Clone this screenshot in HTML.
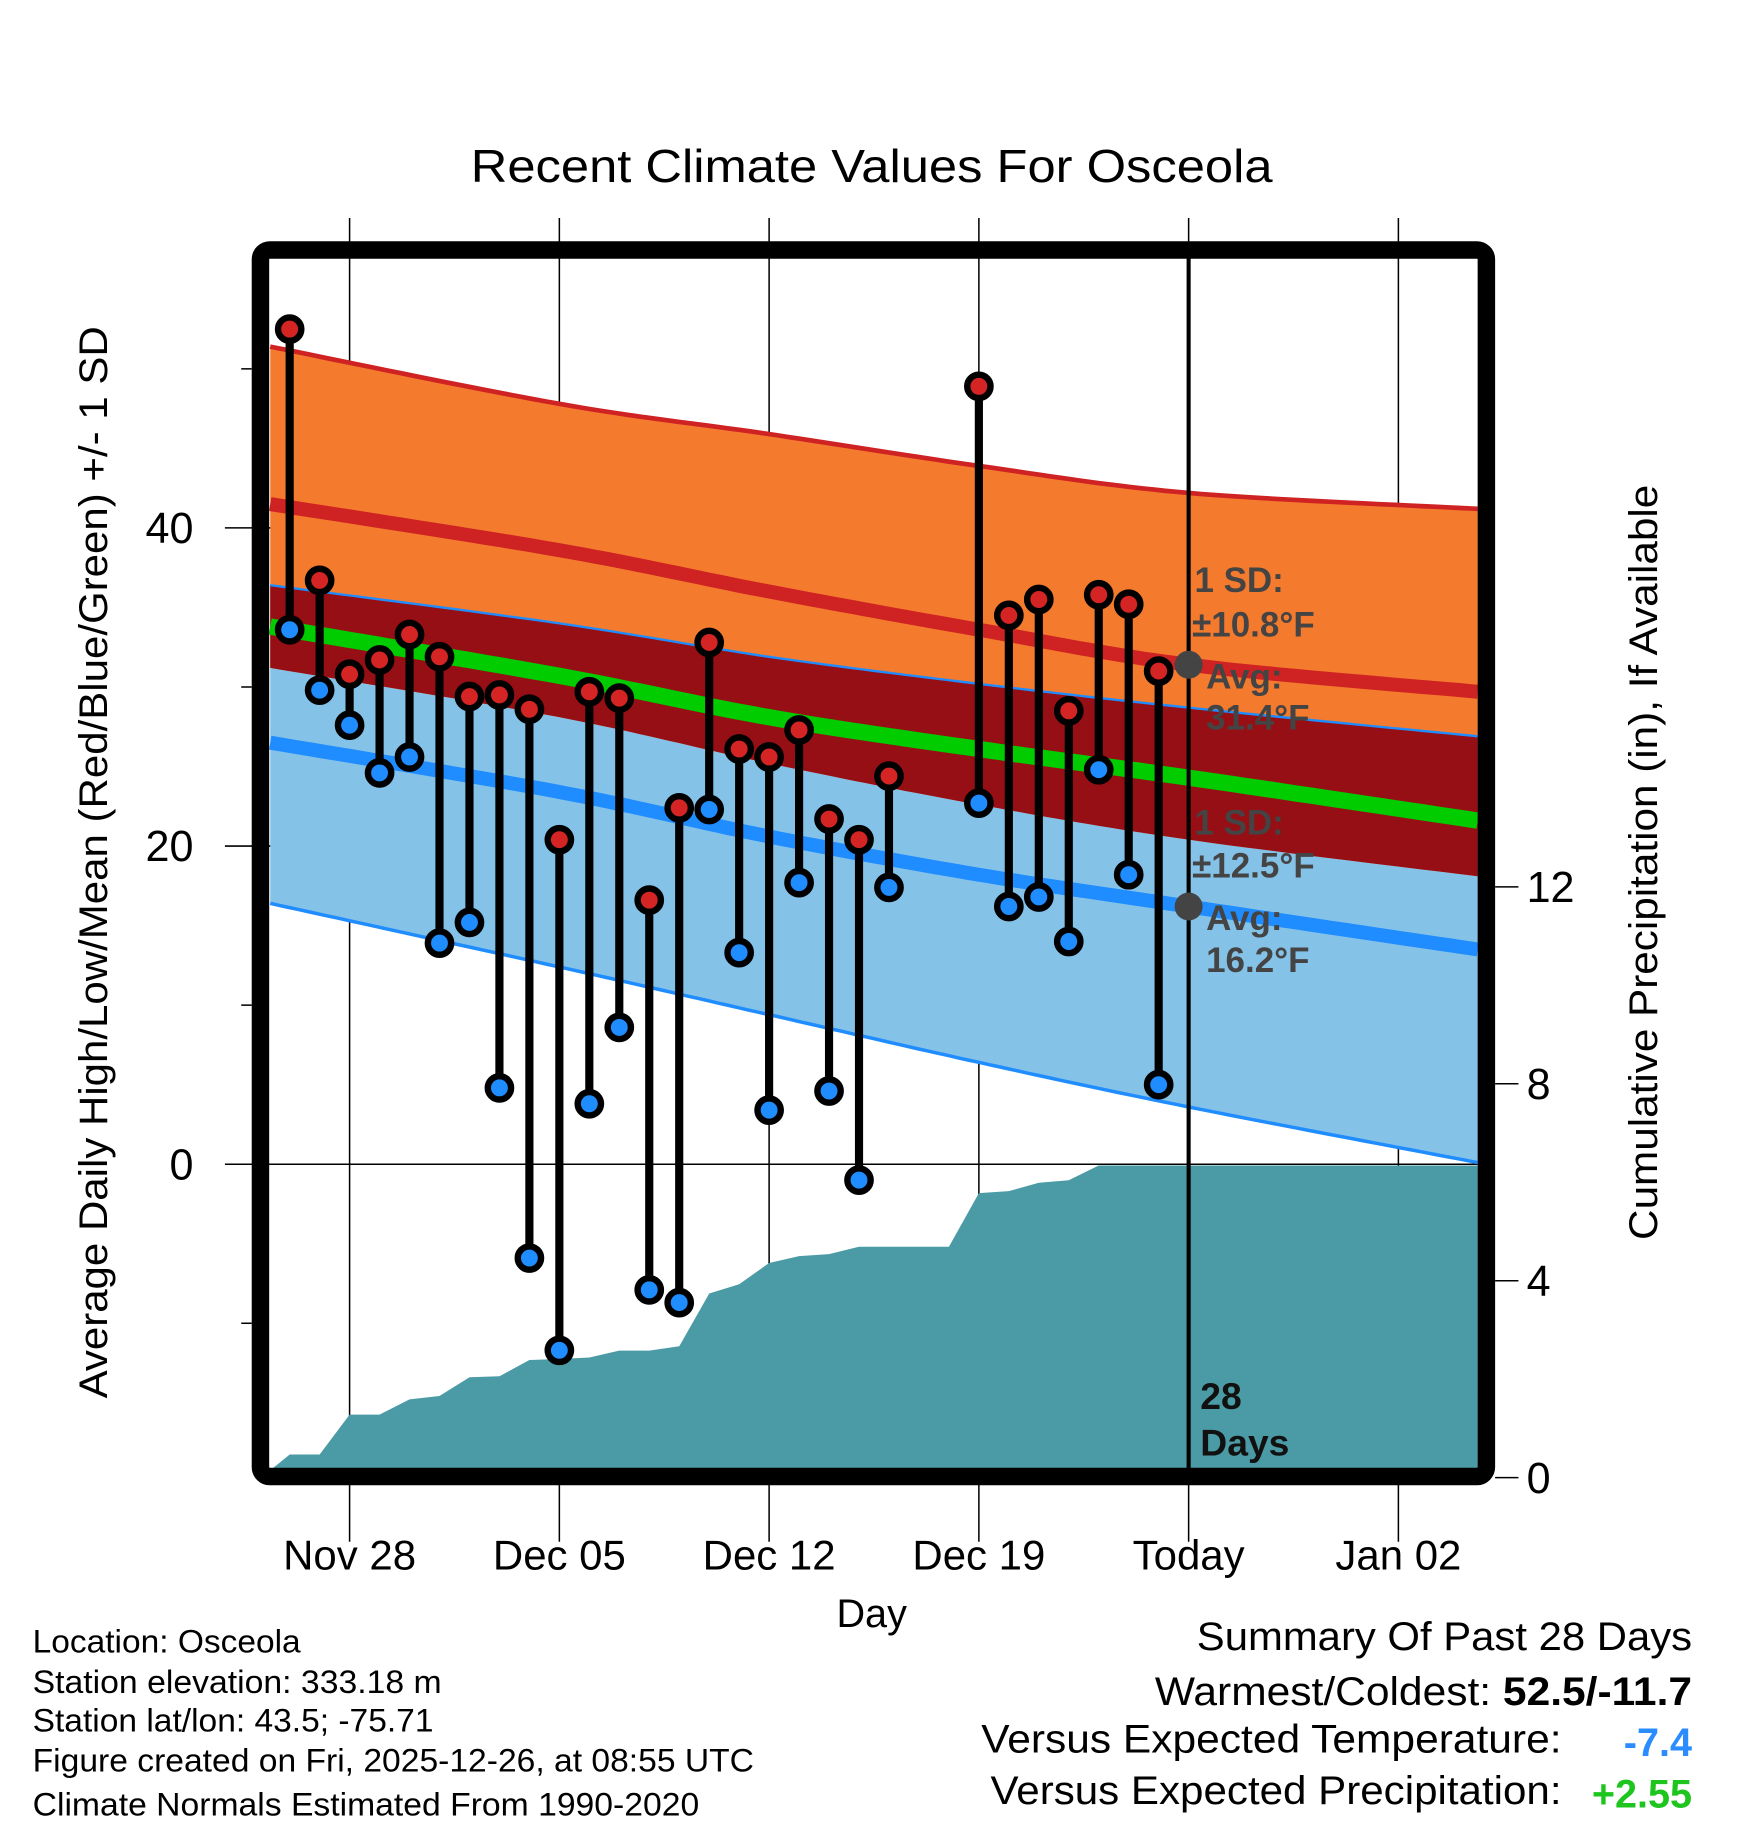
<!DOCTYPE html>
<html><head><meta charset="utf-8"><style>
html,body{margin:0;padding:0;background:#fff}
svg{display:block;font-family:"Liberation Sans",Arial,sans-serif}
</style></head><body>
<svg id="chart" width="1748" height="1828" viewBox="0 0 1500 1568.6" xmlns="http://www.w3.org/2000/svg">
<defs><clipPath id="plotclip"><rect x="231" y="221" width="1038" height="1039"/></clipPath></defs>
<rect width="1500" height="1569" fill="#fff"/>
<text x="748" y="156" font-size="40" text-anchor="middle" textLength="688" lengthAdjust="spacingAndGlyphs">Recent Climate Values For Osceola</text>
<g id="grid"></g>
<g id="plot" clip-path="url(#plotclip)"></g>
<g id="marks"></g>
<rect x="223.5" y="214.5" width="1052" height="1052.5" rx="8" fill="none" stroke="#000" stroke-width="15"/>
<g id="axes"></g>
<text transform="translate(92,740) rotate(-90)" font-size="34" text-anchor="middle" textLength="920" lengthAdjust="spacingAndGlyphs">Average Daily High/Low/Mean (Red/Blue/Green) +/- 1 SD</text>
<text transform="translate(1422,740) rotate(-90)" font-size="34" text-anchor="middle" textLength="648" lengthAdjust="spacingAndGlyphs">Cumulative Precipitation (in), If Available</text>
<text x="748" y="1396" font-size="34" text-anchor="middle">Day</text>
<g font-size="30" font-weight="bold" fill="#444">
<text x="1025" y="508">1 SD:</text><text x="1023" y="546">±10.8°F</text>
<text x="1035" y="591">Avg:</text><text x="1035" y="626">31.4°F</text>
<text x="1025" y="716">1 SD:</text><text x="1023" y="753">±12.5°F</text>
<text x="1035" y="798">Avg:</text><text x="1035" y="834">16.2°F</text>
</g>
<g font-size="32" font-weight="bold" fill="#111">
<text x="1030" y="1209">28</text><text x="1030" y="1249">Days</text></g>
<g font-size="28">
<text x="28" y="1418" textLength="230" lengthAdjust="spacingAndGlyphs">Location: Osceola</text>
<text x="28" y="1453" textLength="351" lengthAdjust="spacingAndGlyphs">Station elevation: 333.18 m</text>
<text x="28" y="1486" textLength="344" lengthAdjust="spacingAndGlyphs">Station lat/lon: 43.5; -75.71</text>
<text x="28" y="1520" textLength="619" lengthAdjust="spacingAndGlyphs">Figure created on Fri, 2025-12-26, at 08:55 UTC</text>
<text x="28" y="1558" textLength="572" lengthAdjust="spacingAndGlyphs">Climate Normals Estimated From 1990-2020</text>
</g>
<g font-size="34" text-anchor="end">
<text x="1452" y="1416" textLength="425" lengthAdjust="spacingAndGlyphs">Summary Of Past 28 Days</text>
<text x="1452" y="1463" textLength="461" lengthAdjust="spacingAndGlyphs">Warmest/Coldest: <tspan font-weight="bold">52.5/-11.7</tspan></text>
<text x="1340" y="1504" textLength="498" lengthAdjust="spacingAndGlyphs">Versus Expected Temperature:</text>
<text x="1452" y="1507" fill="#2b8cff" font-weight="bold">-7.4</text>
<text x="1340" y="1548" textLength="490" lengthAdjust="spacingAndGlyphs">Versus Expected Precipitation:</text>
<text x="1452" y="1551" fill="#1fc51f" font-weight="bold">+2.55</text>
</g>
</svg>
<script>
// Days are offsets from Nov 28
const obsDays = [-2,-1,0,1,2,3,4,5,6,7,8,9,10,11,12,13,14,15,16,17,18,21,22,23,24,25,26,27];
const highs = [52.5,36.7,30.8,31.7,33.3,31.9,29.4,29.5,28.6,20.4,29.7,29.3,16.6,22.4,32.8,26.1,25.6,27.3,21.7,20.4,24.4,48.9,34.5,35.5,28.5,35.8,35.2,31.0];
const lows = [33.6,29.8,27.6,24.6,25.6,13.9,15.2,4.8,-5.9,-11.7,3.8,8.6,-7.9,-8.7,22.3,13.3,3.4,17.7,4.6,-1.0,17.4,22.7,16.2,16.8,14.0,24.8,18.2,5.0];
const precipDays = [-2.65,-2,-1,0,1,2,3,4,5,6,7,8,9,10,11,12,13,14,15,16,17,18,19,20,21,22,23,24,25,26,27,37.65];
const precip = [0.15,0.47,0.47,1.28,1.28,1.59,1.66,2.04,2.06,2.39,2.41,2.44,2.58,2.58,2.67,3.74,3.93,4.36,4.50,4.54,4.69,4.69,4.69,4.69,5.78,5.82,5.99,6.04,6.34,6.34,6.34,6.34];
const normDays = [-2.65,7,14,21,28,37.65];
const highPlusSD = [51.4,47.8,45.9,43.9,42.2,41.2];
const highMean = [41.5,38.6,36.0,33.6,31.4,29.7];
const highMinusSD = [31.2,28.1,25.2,22.6,20.4,18.1];
const meanTemp = [33.8,30.7,28.1,26.1,24.3,21.6];
const lowPlusSD = [36.4,34.0,31.9,30.2,28.7,26.9];
const lowMean = [26.5,23.4,20.6,18.2,16.2,13.5];
const lowMinusSD = [16.4,12.4,9.4,6.4,3.6,0.1];
const tickDays = [0,7,14,21,28,35];
const tickLabels = ["Nov 28","Dec 05","Dec 12","Dec 19","Today","Jan 02"];
const yTicks = [0,20,40];
const yMinor = [-10,10,30,50];
const pTicks = [0,4,8,12];

const NS="http://www.w3.org/2000/svg";
const X=d=>300+d*25.714, Y=t=>999-t*13.65, YP=p=>1268-p*42.25;
function mk(parent,tag,attrs){const e=document.createElementNS(NS,tag);for(const k in attrs)e.setAttribute(k,attrs[k]);document.getElementById(parent).appendChild(e);return e;}
function curvePts(vals){
  // Catmull-Rom sampled points through the normals
  const P=normDays.map((d,i)=>[X(d),Y(vals[i])]);const out=[];
  for(let i=0;i<P.length-1;i++){
    const p0=P[Math.max(0,i-1)],p1=P[i],p2=P[i+1],p3=P[Math.min(P.length-1,i+2)];
    for(let s=0;s<20;s++){const t=s/20,t2=t*t,t3=t2*t;
      const f=(a,b,c,d)=>0.5*((2*b)+(-a+c)*t+(2*a-5*b+4*c-d)*t2+(-a+3*b-3*c+d)*t3);
      out.push([f(p0[0],p1[0],p2[0],p3[0]),f(p0[1],p1[1],p2[1],p3[1])]);}
  }
  out.push(P[P.length-1]);return out;
}
const fmt=a=>a.map(p=>p[0].toFixed(1)+","+p[1].toFixed(1));
function band(top,bot){return "M"+fmt(curvePts(top)).join("L")+"L"+fmt(curvePts(bot).reverse()).join("L")+"Z";}

tickDays.forEach((d,i)=>{
  const g=mk('grid','line',{x1:X(d),x2:X(d),y1:187,y2:1323,stroke:'#000','stroke-width':1.3});
  
  
  const t=mk('axes','text',{x:X(d),y:1347,'font-size':36,'text-anchor':'middle'});
  t.textContent=tickLabels[i];
  
  
});
yTicks.forEach(v=>{
  const g=mk('grid','line',{x1:193,x2:1268,y1:Y(v),y2:Y(v),stroke:'#000','stroke-width':1.3});
  
  
  const t=mk('axes','text',{x:166,y:Y(v)+13,'font-size':37,'text-anchor':'end'});
  t.textContent=v;
  
  
});
yMinor.forEach(v=>{
  const g=mk('axes','line',{x1:207,x2:216,y1:Y(v),y2:Y(v),stroke:'#000','stroke-width':1.3});
  
  
});
pTicks.forEach(v=>{
  const g=mk('axes','line',{x1:1283,x2:1303,y1:YP(v),y2:YP(v),stroke:'#000','stroke-width':1.3});
  
  
  const t=mk('axes','text',{x:1310,y:YP(v)+13,'font-size':37});
  t.textContent=v;
  
  
});

let e;
e=mk('plot','path',{d:band(lowPlusSD,lowMinusSD),fill:'#85c2e8'});


e=mk('plot','path',{d:band(highPlusSD,highMinusSD),fill:'#f47a2e'});


e=mk('plot','path',{d:band(lowPlusSD,highMinusSD),fill:'#960f15'});


const pp="M"+X(precipDays[0])+","+YP(0)+"L"+precipDays.map((d,i)=>X(d).toFixed(1)+","+YP(precip[i]).toFixed(1)).join("L")+"L"+X(precipDays[precipDays.length-1])+","+YP(0)+"Z";
e=mk('plot','path',{d:pp,fill:'#4a9ba5'});


function line(vals,color,w,name){const l=mk('plot','polyline',{points:fmt(curvePts(vals)).join(" "),fill:'none',stroke:color,'stroke-width':w});}
line(lowMinusSD,'#1f8cff',3,'low-minus-sd-line');
line(lowPlusSD,'#1f8cff',2,'low-plus-sd-line');
line(highPlusSD,'#cf2222',4,'high-plus-sd-line');
line(highMean,'#cf2222',12,'high-mean-line');
line(lowMean,'#1f8cff',12,'low-mean-line');
line(meanTemp,'#00cc00',14,'mean-temp-line');
e=mk('plot','line',{x1:X(28),x2:X(28),y1:221,y2:1262,stroke:'#000','stroke-width':3.5});


e=mk('marks','circle',{cx:X(28),cy:Y(highMean[4]),r:12,fill:'#444'});


e=mk('marks','circle',{cx:X(28),cy:Y(lowMean[4]),r:12,fill:'#444'});


obsDays.forEach((d,i)=>{
  const s=mk('marks','line',{x1:X(d),x2:X(d),y1:Y(highs[i]),y2:Y(lows[i]),stroke:'#000','stroke-width':7});
  
  
  [[highs[i],'#d42424','high-marker'],[lows[i],'#1f8cff','low-marker']].forEach(([v,c,n])=>{
    const o=mk('marks','circle',{cx:X(d),cy:Y(v),r:10,fill:c,stroke:'#000','stroke-width':5.5});
    
    
  });
});
</script>
</body></html>
